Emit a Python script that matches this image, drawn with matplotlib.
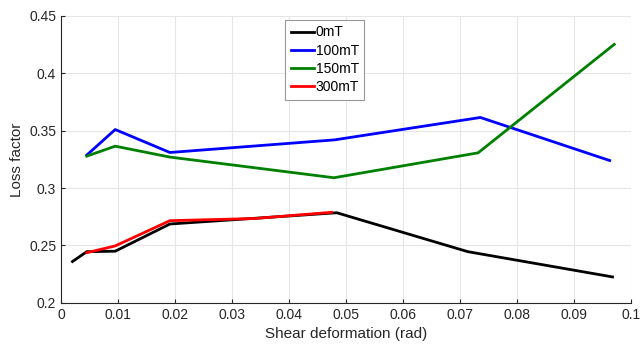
import numpy as np
import matplotlib.pyplot as plt

plt.rcParams['font.family'] = ['Liberation Sans', 'DejaVu Sans']

# data
x0 = [0.002, 0.0045, 0.0095, 0.0191, 0.0484, 0.0714, 0.0968]
y0 = [0.236, 0.2446, 0.245, 0.2687, 0.2785, 0.2446, 0.2226]

x100 = [0.0045, 0.0095, 0.0191, 0.0480, 0.0736, 0.0963]
y100 = [0.3287, 0.351, 0.331, 0.342, 0.3615, 0.324]

x150 = [0.0045, 0.0095, 0.0191, 0.0479, 0.0732, 0.0971]
y150 = [0.3278, 0.3365, 0.327, 0.309, 0.3307, 0.4252]

x300 = [0.0045, 0.0095, 0.0191, 0.034, 0.0475]
y300 = [0.2437, 0.2496, 0.2716, 0.2735, 0.2789]

labels = ['0mT', '100mT', '150mT', '300mT']
colors = ['black', 'blue', 'green', 'red']

fig = plt.figure(figsize=(6.43, 3.53), dpi=100)
ax = fig.add_axes([0.095, 0.142, 0.886, 0.813])

series = [(x0, y0), (x100, y100), (x150, y150), (x300, y300)]
for (xs, ys), lab, c in zip(series, labels, colors):
    ax.plot(xs, ys, color=c, lw=2, label=lab)

ax.set_xlim(0, 0.1)
ax.set_ylim(0.2, 0.45)
ax.set_xticks(np.arange(0, 0.101, 0.01))
ax.set_xticklabels(['0', '0.01', '0.02', '0.03', '0.04', '0.05', '0.06', '0.07', '0.08', '0.09', '0.1'])
ax.set_yticks(np.arange(0.2, 0.451, 0.05))
ax.set_yticklabels(['0.2', '0.25', '0.3', '0.35', '0.4', '0.45'])
ax.grid(True, color='#e6e6e6', lw=0.8)
ax.set_axisbelow(True)
ax.tick_params(direction='in', length=3, labelsize=10, colors='#262626', top=False, right=False)
for s in ax.spines.values():
    s.set_color('#262626')
    s.set_linewidth(0.8)
ax.spines['top'].set_visible(False)
ax.spines['right'].set_visible(False)
ax.set_xlabel('Shear deformation (rad)', fontsize=11, color='#262626')
ax.set_ylabel('Loss factor', fontsize=11, color='#262626')

leg = ax.legend(loc='upper left', bbox_to_anchor=(0.393, 0.986), borderaxespad=0,
                fontsize=10, fancybox=False, edgecolor='#999999', framealpha=1,
                handlelength=1.7, handletextpad=0.1, borderpad=0.4, labelspacing=0.3)
leg.get_frame().set_linewidth(0.8)

fig.savefig('out.png', dpi=100)
